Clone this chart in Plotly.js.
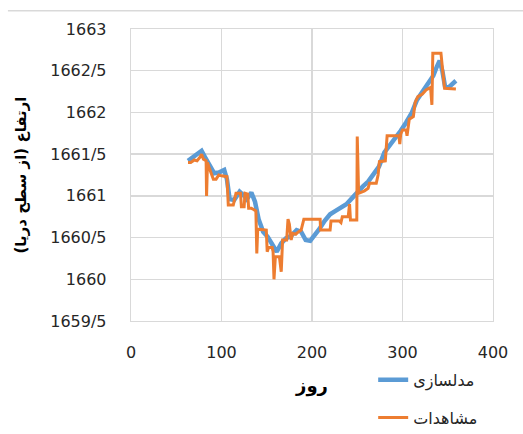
<!DOCTYPE html>
<html>
<head>
<meta charset="utf-8">
<script src="https://cdn.plot.ly/plotly-3.0.1.min.js"></script>
<style>html,body{margin:0;padding:0;background:#fff;}#chart{width:523px;height:434px;}</style>
</head>
<body>
<div id="chart"></div>
<script>
// Modelled series (مدلسازی)
const modelDays = [63, 68, 73, 78, 82, 87, 92, 97, 103, 106, 109, 114, 120, 125, 128, 133, 137, 141, 146, 151, 156, 161, 166, 171, 177, 183, 188, 193, 198, 203, 208, 214, 220, 226, 232, 238, 244, 250, 256, 262, 268, 274, 280, 286, 292, 298, 304, 310, 316, 322, 328, 334, 338, 341, 344, 347, 351, 355, 359];
const modelLevel = [1661.42, 1661.46, 1661.51, 1661.54, 1661.46, 1661.37, 1661.27, 1661.28, 1661.31, 1661.2, 1660.96, 1660.95, 1661.05, 1661.0, 1660.96, 1661.04, 1660.93, 1660.72, 1660.57, 1660.51, 1660.42, 1660.33, 1660.43, 1660.49, 1660.52, 1660.59, 1660.57, 1660.47, 1660.46, 1660.52, 1660.6, 1660.7, 1660.78, 1660.82, 1660.86, 1660.9, 1660.97, 1661.05, 1661.11, 1661.17, 1661.25, 1661.35, 1661.52, 1661.6, 1661.68, 1661.78, 1661.88, 1661.99, 1662.15, 1662.24, 1662.33, 1662.44, 1662.55, 1662.62, 1662.5, 1662.31, 1662.3, 1662.35, 1662.38];

// Observed series (مشاهدات)
const obsDays = [63, 66, 70, 73, 76, 78, 80, 82, 83, 83.5, 84.5, 86, 89, 91, 94, 97, 100, 104, 106, 107.5, 113, 116, 121, 122, 125, 126, 129, 130, 133, 135, 138, 139, 140, 149.5, 150.5, 152, 156, 157, 158, 159.5, 164, 166, 167.5, 172, 173.5, 175, 177, 178.5, 182, 184, 188, 191, 209, 209.5, 220, 221, 230, 232, 233.5, 240, 241.5, 242.5, 249.5, 250, 251.5, 258, 262, 263.5, 271, 273, 274.5, 281, 283, 296, 297, 298, 300, 304, 305, 307.5, 312, 314, 317, 322, 326, 331, 332.5, 333.5, 342.5, 344.5, 346.5, 359];
const obsLevel = [1661.40, 1661.40, 1661.43, 1661.42, 1661.46, 1661.50, 1661.44, 1661.42, 1661.42, 1661.00, 1661.40, 1661.35, 1661.27, 1661.20, 1661.20, 1661.25, 1661.24, 1661.23, 1661.23, 1660.89, 1660.89, 1661.03, 1661.03, 1660.87, 1660.87, 1661.03, 1661.02, 1660.85, 1660.85, 1660.84, 1660.82, 1660.31, 1660.60, 1660.59, 1660.33, 1660.38, 1660.38, 1660.33, 1660.00, 1660.27, 1660.27, 1660.09, 1660.47, 1660.47, 1660.72, 1660.66, 1660.47, 1660.55, 1660.54, 1660.56, 1660.59, 1660.72, 1660.72, 1660.59, 1660.59, 1660.70, 1660.70, 1660.68, 1660.75, 1660.75, 1660.90, 1660.71, 1660.71, 1661.71, 1661.03, 1661.06, 1661.09, 1661.15, 1661.15, 1661.25, 1661.41, 1661.42, 1661.72, 1661.72, 1661.62, 1661.74, 1661.79, 1661.79, 1661.72, 1661.92, 1661.95, 1662.12, 1662.19, 1662.22, 1662.27, 1662.30, 1662.09, 1662.71, 1662.71, 1662.49, 1662.29, 1662.28];

const yTickVals = [1659.5, 1660, 1660.5, 1661, 1661.5, 1662, 1662.5, 1663];
const yTickText = ['1659/5', '1660', '1660/5', '1661', '1661/5', '1662', '1662/5', '1663'];
const xTickVals = [0, 100, 200, 300, 400];

const font = 'DejaVu Sans, Arial, sans-serif';

const traces = [
  {x: modelDays, y: modelLevel, type: 'scatter', mode: 'lines', name: 'مدلسازی',
   legendgroup: 'a', line: {color: '#5B9BD5', width: 4.5}},
  {x: obsDays, y: obsLevel, type: 'scatter', mode: 'lines', name: 'مشاهدات',
   legendgroup: 'b', line: {color: '#ED7D31', width: 3}}
];

const layout = {
  width: 523, height: 434,
  margin: {l: 131, r: 30, t: 29, b: 113, autoexpand: false},
  paper_bgcolor: '#ffffff', plot_bgcolor: '#ffffff',
  font: {family: font, size: 16, color: '#262626'},
  showlegend: true,
  legend: {x: 0.669, y: -0.143, xanchor: 'left', yanchor: 'top',
           bgcolor: 'rgba(0,0,0,0)', tracegroupgap: 14, traceorder: 'grouped',
           font: {family: font, size: 16, color: '#262626'}},
  xaxis: {range: [0, 400], tickvals: xTickVals, showgrid: true, gridcolor: '#d9d9d9', gridwidth: 1.3,
          zeroline: false, showline: true, linecolor: '#d9d9d9', linewidth: 1.3, mirror: true,
          ticks: '', ticklabelstandoff: 16, tickfont: {family: font, size: 16, color: '#262626'},
          title: {text: 'روز', standoff: 19, font: {family: font, size: 18, color: '#000', weight: 'bold'}}},
  yaxis: {range: [1659.5, 1663], tickvals: yTickVals, ticktext: yTickText, showgrid: true,
          gridcolor: '#d9d9d9', gridwidth: 1.3, zeroline: false, showline: true, linecolor: '#d9d9d9',
          linewidth: 1.3, mirror: true, ticks: '', ticklabelstandoff: 20,
          tickfont: {family: font, size: 16, color: '#262626'},
          title: {text: 'ارتفاع (از سطح دریا)', standoff: 20, font: {family: font, size: 15, color: '#000', weight: 'bold'}}},
  shapes: [{type: 'line', xref: 'paper', yref: 'paper', x0: -0.34, x1: 1.084, y0: 1.0627, y1: 1.0627,
            line: {color: '#d9d9d9', width: 1.5}}]
};

Plotly.newPlot('chart', traces, layout, {staticPlot: true, displayModeBar: false});
</script>
</body>
</html>
